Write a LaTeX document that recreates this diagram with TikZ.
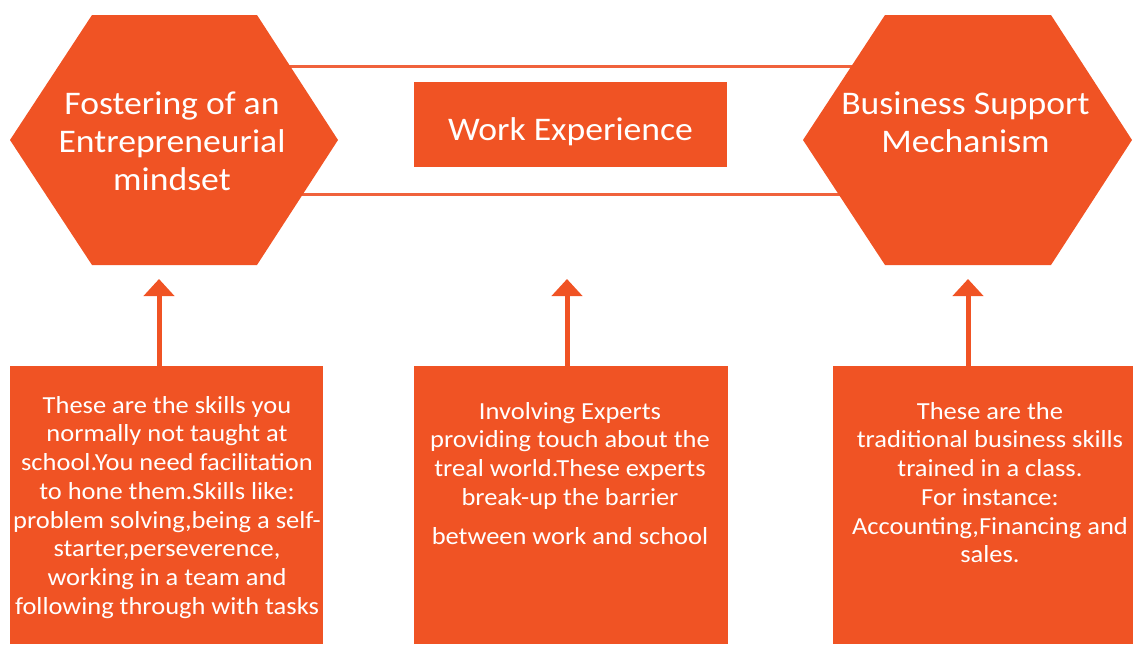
\documentclass[tikz,border=0pt]{standalone}
\usepackage{fontspec}
\setmainfont{Carlito}[FakeStretch=1.08]
\usetikzlibrary{arrows.meta,backgrounds,calc}
\definecolor{org}{RGB}{240,83,36}
\definecolor{orgl}{RGB}{240,98,60}
\begin{document}
\begin{tikzpicture}[x=1pt,y=-1pt,
  hexfill/.style={fill=org, draw=none},
  box/.style={fill=org, draw=none, inner sep=0pt, outer sep=0pt},
  title/.style={text=white, align=center, inner sep=0pt, font=\fontsize{33}{38}\selectfont},
  btxt/.style={text=white, align=center, inner sep=0pt, font=\fontsize{24.5}{28.7}\selectfont},
  link/.style={draw=orgl, line width=3pt},
  uparrow/.style={draw=org, line width=5pt, -{Triangle[width=30pt,length=17pt]}}
]
\useasboundingbox (0,0) rectangle (1133,645);
% hexagon centres
\coordinate (lhex) at (174,140);
\coordinate (rhex) at (967.5,140);
% hexagons
\path[hexfill] ($(lhex)+(-82,-125)$) -- ($(lhex)+(83,-125)$) -- ($(lhex)+(164,0)$) -- ($(lhex)+(83,125)$) -- ($(lhex)+(-82,125)$) -- ($(lhex)+(-164,0)$) -- cycle;
\path[hexfill] ($(rhex)+(-82.5,-125)$) -- ($(rhex)+(83.5,-125)$) -- ($(rhex)+(164.5,0)$) -- ($(rhex)+(83.5,125)$) -- ($(rhex)+(-82.5,125)$) -- ($(rhex)+(-164.5,0)$) -- cycle;
% connecting lines behind
\begin{scope}[on background layer]
\draw[link] ($(lhex)+(0,-74)$) -- ($(rhex)+(0,-74)$);
\draw[link] ($(lhex)+(0,54)$) -- ($(rhex)+(0,54)$);
\end{scope}
% titles
\node[title, anchor=north] (lt) at (172,92) {Fostering of an\\Entrepreneurial\\mindset};
\node[title, anchor=north] (rt) at (965.5,92) {Business Support\\Mechanism};
\node[box, minimum width=313pt, minimum height=85pt] (we) at (570.5,124.5) {};
\node[title] at ($(we.center)+(0,7)$) {Work Experience};
% bottom boxes
\node[box, minimum width=313pt, minimum height=278pt] (lbox) at (166.5,505) {};
\node[box, minimum width=314pt, minimum height=278pt] (mbox) at (571,505) {};
\node[box, minimum width=300pt, minimum height=278pt] (rbox) at (983,505) {};
% arrows
\draw[uparrow] ($(lbox.north)+(-7.5,0)$) -- ($(lbox.north)+(-7.5,-87)$);
\draw[uparrow] ($(mbox.north)+(-4,0)$) -- ($(mbox.north)+(-4,-87)$);
\draw[uparrow] ($(rbox.north)+(-15,0)$) -- ($(rbox.north)+(-15,-87)$);
% bottom texts
\node[btxt, anchor=north] (lbt) at (167,396) {These are the skills you\\normally not taught at\\school.You need facilitation\\to hone them.Skills like:\\problem solving,being a self-\\starter,perseverence,\\working in a team and\\following through with tasks};
\node[btxt, anchor=north] (mbt) at (570,402) {Involving Experts\\providing touch about the\\treal world.These experts\\break-up the barrier\\[10pt]between work and school};
\node[btxt, anchor=north] (rbt) at (990,402) {These are the\\traditional business skills\\trained in a class.\\For instance:\\Accounting,Financing and\\sales.};
\end{tikzpicture}
\end{document}
